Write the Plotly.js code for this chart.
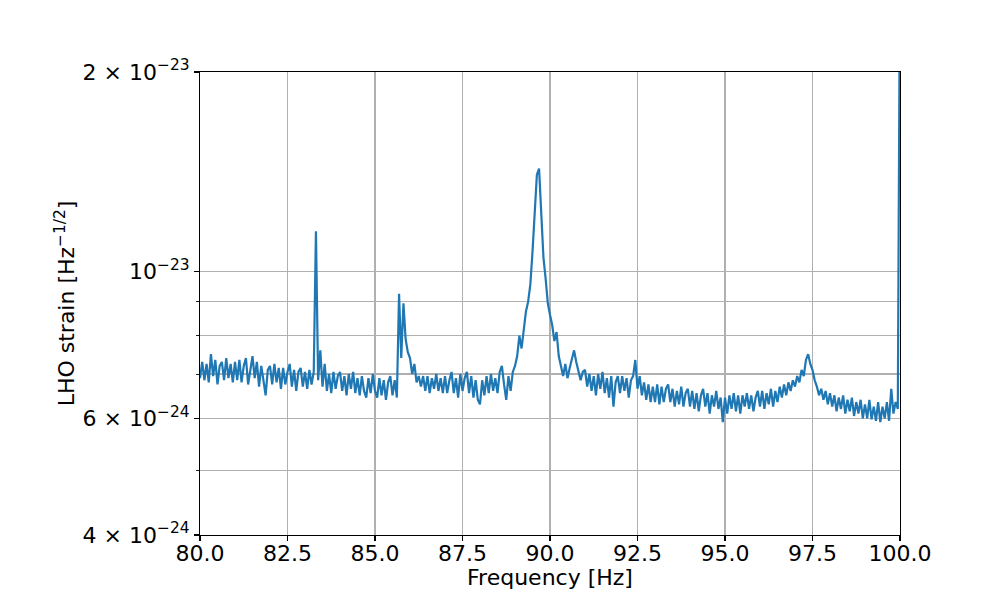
<!DOCTYPE html>
<html>
<head>
<meta charset="utf-8">
<script src="https://cdn.plot.ly/plotly-3.0.1.min.js"></script>
<style>html,body{margin:0;padding:0;background:#fff;}#chart{width:1000px;height:600px;}</style>
</head>
<body>
<div id="chart"></div>
<script>
// Frequency grid of the spectrum (Hz)
const freqStart = 80.0;
const freqStep = 0.0625;

// Amplitude spectral density, in units of 1e-24 Hz^-1/2, one row per Hz (16 bins each)
const asd_1e24 = [
  // 80
  6.90, 7.30, 6.85, 7.25, 6.80, 7.50, 6.95, 7.35, 6.75, 7.20, 7.30, 6.85, 7.40, 6.90, 7.25, 6.80,
  // 81
  7.30, 6.85, 7.35, 6.80, 7.20, 7.40, 6.75, 7.15, 7.45, 6.90, 7.30, 6.70, 7.20, 6.85, 6.50, 7.10,
  // 82
  7.20, 6.75, 7.25, 6.80, 7.15, 6.65, 7.15, 6.75, 7.05, 7.25, 6.70, 7.10, 6.60, 7.05, 7.15, 6.70,
  // 83
  7.05, 6.65, 7.10, 6.75, 7.05, 11.50, 6.85, 7.60, 6.70, 7.25, 6.60, 7.00, 6.55, 7.05, 6.65, 6.95,
  // 84
  7.05, 6.60, 6.95, 6.50, 7.00, 6.65, 7.05, 6.55, 6.90, 6.50, 6.95, 6.60, 6.45, 6.90, 6.55, 7.00,
  // 85
  6.60, 6.45, 6.90, 6.50, 6.85, 6.40, 6.80, 6.95, 6.50, 6.85, 6.45, 9.25, 7.40, 8.95, 7.90, 7.55,
  // 86
  7.40, 7.00, 7.25, 6.80, 6.95, 6.70, 6.95, 6.60, 6.95, 6.55, 6.90, 6.65, 7.00, 6.60, 6.90, 6.55,
  // 87
  6.95, 6.55, 6.85, 7.05, 6.55, 6.90, 6.45, 7.00, 6.60, 6.90, 7.05, 6.55, 6.95, 6.45, 6.85, 6.40,
  // 88
  6.30, 6.85, 6.50, 6.95, 6.55, 7.00, 6.60, 6.90, 6.55, 7.05, 7.20, 6.75, 6.40, 6.95, 6.60, 7.05,
  // 89
  7.20, 7.45, 8.00, 7.65, 8.25, 8.70, 9.00, 9.55, 10.70, 12.50, 14.00, 14.30, 12.20, 10.50, 9.75, 8.95,
  // 90
  8.60, 8.30, 7.85, 8.10, 7.45, 7.20, 6.95, 7.25, 6.90, 7.15, 7.35, 7.60, 7.30, 7.10, 6.85, 7.05,
  // 91
  7.10, 6.70, 7.00, 6.60, 6.95, 6.50, 7.00, 6.65, 7.05, 6.55, 6.90, 6.45, 6.95, 6.25, 6.80, 6.95,
  // 92
  6.55, 6.95, 6.60, 6.90, 6.45, 6.85, 6.95, 7.35, 6.65, 6.95, 6.50, 6.80, 6.40, 6.75, 6.35, 6.70,
  // 93
  6.35, 6.75, 6.30, 6.70, 6.35, 6.65, 6.75, 6.35, 6.65, 6.25, 6.60, 6.30, 6.70, 6.25, 6.55, 6.65,
  // 94
  6.25, 6.60, 6.20, 6.55, 6.15, 6.50, 6.65, 6.25, 6.55, 6.10, 6.50, 6.25, 6.60, 6.20, 6.45, 5.92,
  // 95
  6.45, 6.10, 6.50, 6.20, 6.55, 6.15, 6.50, 6.10, 6.50, 6.25, 6.55, 6.20, 6.50, 6.15, 6.45, 6.60,
  // 96
  6.25, 6.60, 6.20, 6.55, 6.30, 6.65, 6.25, 6.60, 6.35, 6.70, 6.45, 6.75, 6.50, 6.80, 6.60, 6.85,
  // 97
  6.70, 6.95, 6.80, 7.10, 6.95, 7.35, 7.50, 7.25, 7.10, 6.85, 6.70, 6.50, 6.65, 6.40, 6.60, 6.30,
  // 98
  6.55, 6.25, 6.50, 6.15, 6.45, 6.20, 6.50, 6.10, 6.40, 6.15, 6.45, 6.05, 6.35, 6.10, 6.40, 6.00,
  // 99
  6.30, 6.00, 6.40, 5.98, 6.25, 5.95, 6.35, 5.92, 6.25, 6.00, 6.35, 5.95, 6.65, 6.10, 6.35, 6.20,
  // 100
  30.0
];

// Axis ticks
const xTickVals = [80.0, 82.5, 85.0, 87.5, 90.0, 92.5, 95.0, 97.5, 100.0];
const yMajorVals = [4e-24, 6e-24, 1e-23, 2e-23];
const yMajorText = ["4 × 10<sup>−24</sup>", "6 × 10<sup>−24</sup>", "10<sup>−23</sup>", "2 × 10<sup>−23</sup>"];
const yMinorVals = [5e-24, 7e-24, 8e-24, 9e-24];
const xRange = [80, 100];
const yRange = [4e-24, 2e-23];

const freqs = asd_1e24.map((_, i) => freqStart + i * freqStep);
const asd = asd_1e24.map(v => v * 1e-24);

const font = {family: "DejaVu Sans, sans-serif", size: 22, color: "#000"};

const trace = {
  x: freqs, y: asd, type: "scatter", mode: "lines",
  line: {color: "#1f77b4", width: 2.2},
  hoverinfo: "skip"
};

const layout = {
  width: 1000, height: 600, autosize: false,
  margin: {l: 200, r: 100, t: 72, b: 65, pad: 0},
  paper_bgcolor: "#fff", plot_bgcolor: "#fff",
  showlegend: false, hovermode: false,
  font: font,
  xaxis: {
    range: xRange, tickmode: "array", tickvals: xTickVals,
    ticktext: xTickVals.map(v => v.toFixed(1)),
    ticks: "outside", ticklen: 5, tickwidth: 1.1, tickcolor: "#000",
    ticklabelstandoff: -7,
    showgrid: true, gridcolor: "#b0b0b0", gridwidth: 1.1,
    showline: true, linecolor: "#000", linewidth: 1.1, mirror: true,
    zeroline: false, tickfont: font,
    title: {text: "Frequency [Hz]", font: font, standoff: 2}
  },
  yaxis: {
    type: "log",
    range: [Math.log10(yRange[0]), Math.log10(yRange[1])],
    tickmode: "array", tickvals: yMajorVals, ticktext: yMajorText,
    ticks: "outside", ticklen: 5, tickwidth: 1.1, tickcolor: "#000",
    showgrid: true, gridcolor: "#b0b0b0", gridwidth: 1.1,
    minor: {tickmode: "array", tickvals: yMinorVals, ticks: "outside", ticklen: 3, tickwidth: 0.9, tickcolor: "#000", showgrid: true, gridcolor: "#b0b0b0", gridwidth: 1.1},
    showline: true, linecolor: "#000", linewidth: 1.1, mirror: true,
    zeroline: false, tickfont: font,
    title: {text: "LHO strain [Hz<sup>−1/2</sup>]", font: font, standoff: 1}
  }
};

Plotly.newPlot("chart", [trace], layout, {displayModeBar: false, staticPlot: true});
</script>
</body>
</html>
